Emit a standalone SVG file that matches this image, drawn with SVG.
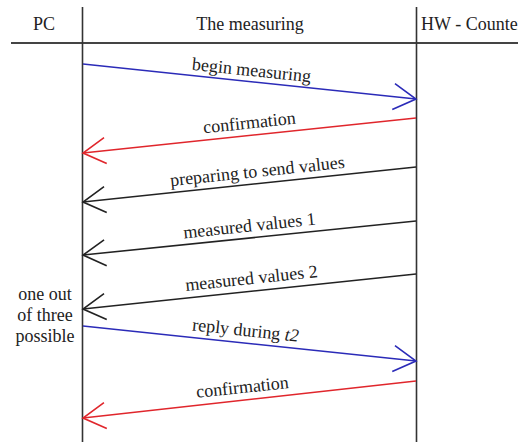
<svg xmlns="http://www.w3.org/2000/svg" width="518" height="442" viewBox="0 0 518 442">
<style>
text{font-family:"Liberation Serif","Times New Roman",serif;font-size:18px;fill:#222;}
.mid{text-anchor:middle;}
.life{stroke:#333;stroke-width:1.6;fill:none;}
.hdr{stroke:#444;stroke-width:2;fill:none;}
.blue{stroke:#2b2bb8;stroke-width:1.6;fill:none;}
.red{stroke:#e0262c;stroke-width:1.6;fill:none;}
.black{stroke:#222;stroke-width:1.6;fill:none;}
</style>
<defs>
<marker id="ab" markerUnits="userSpaceOnUse" markerWidth="30" markerHeight="30" viewBox="-25 -15 30 30" refX="0" refY="0" orient="auto"><path d="M-22.5,-13 L0,0 L-22.5,13" class="blue"/></marker>
<marker id="ar" markerUnits="userSpaceOnUse" markerWidth="30" markerHeight="30" viewBox="-25 -15 30 30" refX="0" refY="0" orient="auto"><path d="M-22.5,-13 L0,0 L-22.5,13" class="red"/></marker>
<marker id="ak" markerUnits="userSpaceOnUse" markerWidth="30" markerHeight="30" viewBox="-25 -15 30 30" refX="0" refY="0" orient="auto"><path d="M-22.5,-13 L0,0 L-22.5,13" class="black"/></marker>
</defs>
<rect width="518" height="442" fill="#fff"/>
<g id="header">
<line class="hdr" x1="11" y1="43" x2="518" y2="43"/>
<text class="mid" x="44" y="30">PC</text>
<text class="mid" x="250" y="30">The measuring</text>
<text x="421" y="30">HW - Counter</text>
</g>
<g id="pc">
<line class="life" x1="82.5" y1="7" x2="82.5" y2="442"/>
<text class="mid" x="45" y="300">one out</text>
<text class="mid" x="45" y="321">of three</text>
<text class="mid" x="45" y="342">possible</text>
</g>
<g id="hw">
<line class="life" x1="416.5" y1="7" x2="416.5" y2="442"/>
</g>
<g id="connectors">
<line class="blue" x1="83" y1="64" x2="416" y2="99" marker-end="url(#ab)"/>
<line class="red" x1="416" y1="118" x2="83" y2="153" marker-end="url(#ar)"/>
<line class="black" x1="416" y1="167" x2="83" y2="202" marker-end="url(#ak)"/>
<line class="black" x1="416" y1="221" x2="83" y2="255" marker-end="url(#ak)"/>
<line class="black" x1="416" y1="274" x2="83" y2="309" marker-end="url(#ak)"/>
<line class="blue" x1="83" y1="326" x2="416" y2="361" marker-end="url(#ab)"/>
<line class="red" x1="416" y1="381" x2="83" y2="418" marker-end="url(#ar)"/>
<text class="mid" x="251" y="76" transform="rotate(6 251 76)">begin measuring</text>
<text class="mid" x="250" y="128.5" transform="rotate(-6 250 128.5)">confirmation</text>
<text class="mid" x="258" y="177" transform="rotate(-6 258 177)">preparing to send values</text>
<text class="mid" x="250" y="231.5" transform="rotate(-6 250 231.5)">measured values 1</text>
<text class="mid" x="252" y="284" transform="rotate(-6 252 284)">measured values 2</text>
<text class="mid" x="245" y="336" transform="rotate(6 245 336)">reply during <tspan font-style="italic">t2</tspan></text>
<text class="mid" x="243" y="393" transform="rotate(-6 243 393)">confirmation</text>
</g>
</svg>
